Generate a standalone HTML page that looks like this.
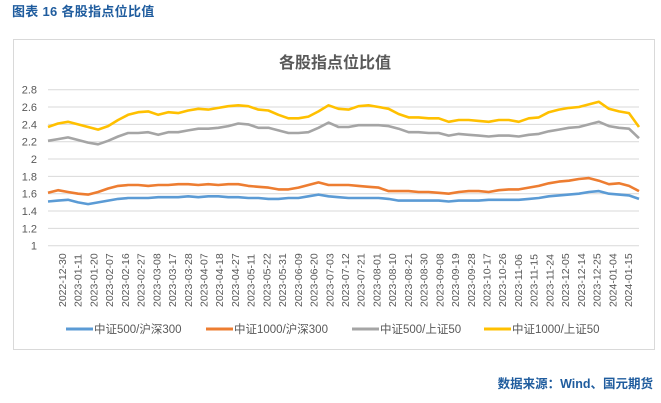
<!DOCTYPE html>
<html><head><meta charset="utf-8">
<style>
html,body{margin:0;padding:0;background:#fff;}
body{width:661px;height:403px;position:relative;overflow:hidden;font-family:"Liberation Sans","Noto Sans CJK SC",sans-serif;}
#cap{position:absolute;left:12px;top:1px;font-size:13px;color:#1f5c9e;font-weight:bold;letter-spacing:0.3px;}
#src{position:absolute;right:8px;top:373px;font-size:12.5px;color:#1f5c9e;font-weight:bold;}
svg{position:absolute;left:0;top:0;}
</style></head><body>
<div id="cap">图表 16 各股指点位比值</div>
<svg id="chart" width="661" height="403"></svg>
<div id="src">数据来源：Wind、国元期货</div>
<script>
const xLabels=["2022-12-30","2023-01-11","2023-01-20","2023-02-07","2023-02-16","2023-02-27","2023-03-08","2023-03-17","2023-03-28","2023-04-07","2023-04-18","2023-04-27","2023-05-11","2023-05-22","2023-05-31","2023-06-09","2023-06-20","2023-07-03","2023-07-12","2023-07-21","2023-08-01","2023-08-10","2023-08-21","2023-08-30","2023-09-08","2023-09-19","2023-09-28","2023-10-17","2023-10-26","2023-11-06","2023-11-15","2023-11-24","2023-12-05","2023-12-14","2023-12-25","2024-01-04","2024-01-15"];
const yTicks=[1,1.2,1.4,1.6,1.8,2,2.2,2.4,2.6,2.8];
const seriesNames=["中证500/沪深300","中证1000/沪深300","中证500/上证50","中证1000/上证50"];
const seriesColors=["#5b9bd5","#ed7d31","#a5a5a5","#ffc000"];
const s500_300=[1.51,1.52,1.53,1.50,1.48,1.50,1.52,1.54,1.55,1.55,1.55,1.56,1.56,1.56,1.57,1.56,1.57,1.57,1.56,1.56,1.55,1.55,1.54,1.54,1.55,1.55,1.57,1.59,1.57,1.56,1.55,1.55,1.55,1.55,1.54,1.52,1.52,1.52,1.52,1.52,1.51,1.52,1.52,1.52,1.53,1.53,1.53,1.53,1.54,1.55,1.57,1.58,1.59,1.60,1.62,1.63,1.60,1.59,1.58,1.54];
const s1000_300=[1.61,1.64,1.62,1.60,1.59,1.62,1.66,1.69,1.70,1.70,1.69,1.70,1.70,1.71,1.71,1.70,1.71,1.70,1.71,1.71,1.69,1.68,1.67,1.65,1.65,1.67,1.70,1.73,1.70,1.70,1.70,1.69,1.68,1.67,1.63,1.63,1.63,1.62,1.62,1.61,1.60,1.62,1.63,1.63,1.62,1.64,1.65,1.65,1.67,1.69,1.72,1.74,1.75,1.77,1.78,1.75,1.71,1.72,1.69,1.63];
const s500_50=[2.21,2.23,2.25,2.22,2.19,2.17,2.21,2.26,2.30,2.30,2.31,2.28,2.31,2.31,2.33,2.35,2.35,2.36,2.38,2.41,2.40,2.36,2.36,2.33,2.30,2.30,2.31,2.36,2.42,2.37,2.37,2.39,2.39,2.39,2.38,2.35,2.31,2.31,2.30,2.30,2.27,2.29,2.28,2.27,2.26,2.27,2.27,2.26,2.28,2.29,2.32,2.34,2.36,2.37,2.40,2.43,2.38,2.36,2.35,2.24];
const s1000_50=[2.37,2.41,2.43,2.40,2.37,2.34,2.38,2.45,2.51,2.54,2.55,2.51,2.54,2.53,2.56,2.58,2.57,2.59,2.61,2.62,2.61,2.57,2.56,2.51,2.47,2.47,2.49,2.55,2.62,2.58,2.57,2.61,2.62,2.60,2.58,2.52,2.48,2.48,2.47,2.47,2.43,2.45,2.45,2.44,2.43,2.45,2.45,2.43,2.47,2.48,2.54,2.57,2.59,2.60,2.63,2.66,2.58,2.55,2.53,2.37];
const series=[s500_300,s1000_300,s500_50,s1000_50];

const svg=document.getElementById('chart');
const NS='http://www.w3.org/2000/svg';
function mk(t,a,txt){const e=document.createElementNS(NS,t);for(const k in a)e.setAttribute(k,a[k]);if(txt!==undefined)e.textContent=txt;svg.appendChild(e);return e;}
const X0=48,X1=639,Y0=245.7,Y1=89.7,yMin=1,yMax=2.8;
const yS=v=>Y0-(v-yMin)/(yMax-yMin)*(Y0-Y1);
const n=s1000_50.length;
const xS=i=>X0+i*(X1-X0)/(n-1);

let e=mk('rect',{x:13.5,y:39.5,width:641,height:310,fill:'#fff',stroke:'#d9d9d9'});


e=mk('text',{x:335,y:68,'text-anchor':'middle','font-size':16,'font-weight':'bold',fill:'#595959','font-family':'"Liberation Sans","Noto Sans CJK SC",sans-serif'},'各股指点位比值');



yTicks.forEach(v=>{
  const g=mk('line',{x1:X0,x2:X1,y1:yS(v),y2:yS(v),stroke:'#d9d9d9','stroke-width':1});
  
  
  const t=mk('text',{x:37,y:yS(v)+4,'text-anchor':'end','font-size':11,fill:'#595959'},String(v));
  
  
});

const lx0=62,lx1=628,lstep=(lx1-lx0)/(xLabels.length-1);
xLabels.forEach((l,i)=>{
  const x=lx0+i*lstep+4;
  const t=mk('text',{x:x,y:307,'font-size':10.5,fill:'#595959',transform:`rotate(-90 ${x} 307)`},l);
  
  
});

series.forEach((s,k)=>{
  const d=s.map((v,i)=>(i?'L':'M')+xS(i).toFixed(1)+','+yS(v).toFixed(1)).join(' ');
  const p=mk('path',{d:d,fill:'none',stroke:seriesColors[k],'stroke-width':2.6,'stroke-linejoin':'round'});
  
  
});

const legX=[66,206,352,484];
seriesNames.forEach((nm,k)=>{
  const l=mk('line',{x1:legX[k],x2:legX[k]+27,y1:329,y2:329,stroke:seriesColors[k],'stroke-width':3});
  
  
  const t=mk('text',{x:legX[k]+28,y:333,'font-size':11.5,fill:'#595959'},nm);
  
  
});
</script>
</body></html>
